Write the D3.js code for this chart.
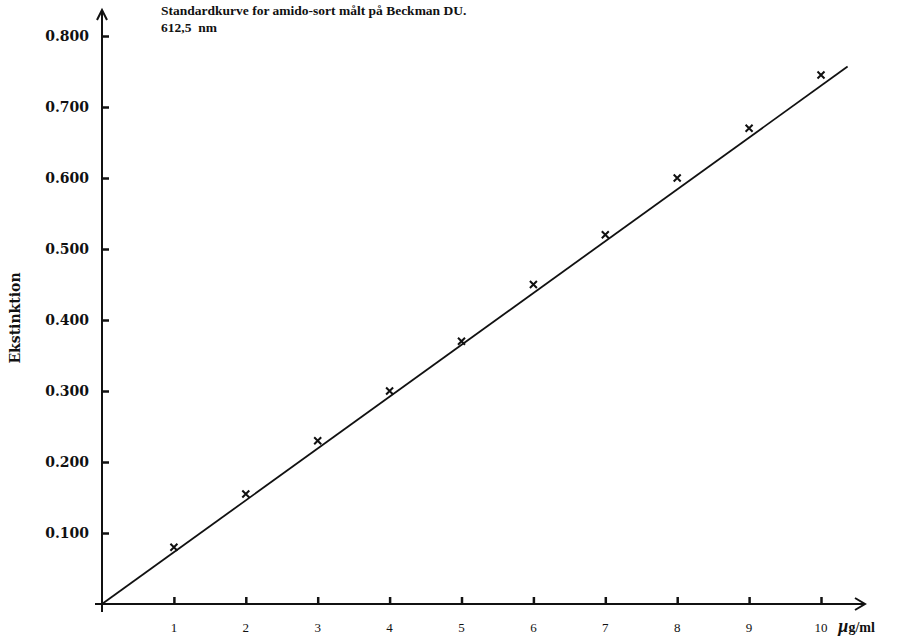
<!DOCTYPE html>
<html>
<head>
<meta charset="utf-8">
<script src="https://cdn.jsdelivr.net/npm/d3@7"></script>
<style>
  body { margin: 0; background: #fff; }
  text { font-family: "Liberation Serif", "DejaVu Serif", serif; fill: #111; }
  .wide { font-family: "DejaVu Serif", serif; }
</style>
</head>
<body>
<svg id="chart" width="899" height="637"></svg>
<script>
// measured points (concentration µg/ml, extinction)
const concentrations = [1, 2, 3, 4, 5, 6, 7, 8, 9, 10];
const extinctions = [0.08, 0.155, 0.23, 0.30, 0.37, 0.45, 0.52, 0.60, 0.67, 0.745];
// standard curve endpoints
const curveX = [0, 10.37];
const curveY = [0, 0.757];
const xTicks = [1, 2, 3, 4, 5, 6, 7, 8, 9, 10];
const yTicks = [0.1, 0.2, 0.3, 0.4, 0.5, 0.6, 0.7, 0.8];

const svg = d3.select("#chart");
const x = d3.scaleLinear().domain([0, 10]).range([102, 821]);
const y = d3.scaleLinear().domain([0, 0.8]).range([604, 36]);

// axes lines with arrows
svg.append("line").attr("x1", 95).attr("x2", 864).attr("y1", y(0)).attr("y2", y(0))
  .attr("stroke", "#111").attr("stroke-width", 2);
svg.append("path").attr("d", `M855,${y(0) - 6} L865,${y(0)} L855,${y(0) + 6}`)
  .attr("fill", "none").attr("stroke", "#111").attr("stroke-width", 2);
svg.append("line").attr("x1", x(0)).attr("x2", x(0)).attr("y1", 612).attr("y2", 11)
  .attr("stroke", "#111").attr("stroke-width", 2);
svg.append("path").attr("d", `M${x(0) - 5},20 L${x(0)},10 L${x(0) + 5},20`)
  .attr("fill", "none").attr("stroke", "#111").attr("stroke-width", 2);

// x ticks
const xAxis = d3.axisTop(x).tickValues(xTicks).tickSize(7).tickFormat("");
svg.append("g").attr("transform", `translate(0,${y(0)})`).call(xAxis)
  .call(g => g.select(".domain").remove())
  .call(g => g.selectAll("line").attr("stroke", "#111").attr("stroke-width", 2.5));
svg.append("g").selectAll("text").data(xTicks).join("text")
  .attr("x", d => x(d)).attr("y", 632).attr("text-anchor", "middle")
  .attr("font-size", 13).text(d => d);
svg.append("text").attr("x", 838).attr("y", 632).attr("font-size", 14)
  .attr("font-weight", "bold")
  .call(t => t.append("tspan").attr("font-style", "italic").attr("font-size", 18).text("\u00b5"))
  .call(t => t.append("tspan").text("g/ml"));

// y ticks
const yAxis = d3.axisRight(y).tickValues(yTicks).tickSize(7).tickFormat("");
svg.append("g").attr("transform", `translate(${x(0)},0)`).call(yAxis)
  .call(g => g.select(".domain").remove())
  .call(g => g.selectAll("line").attr("stroke", "#111").attr("stroke-width", 2.5));
svg.append("g").selectAll("text").data(yTicks).join("text")
  .attr("class", "wide")
  .attr("x", 89).attr("y", d => y(d) + 5).attr("text-anchor", "end")
  .attr("font-size", 14).attr("font-weight", "bold").text(d => d.toFixed(3));

svg.append("text").attr("class", "wide").attr("transform", "translate(20,318) rotate(-90)")
  .attr("text-anchor", "middle").attr("font-size", 14).attr("font-weight", "bold")
  .text("Ekstinktion");

// standard curve
svg.append("line")
  .attr("x1", x(curveX[0])).attr("y1", y(curveY[0]))
  .attr("x2", x(curveX[1])).attr("y2", y(curveY[1]))
  .attr("stroke", "#111").attr("stroke-width", 1.8);

// data markers (x)
const pts = concentrations.map((c, i) => ({ c, e: extinctions[i] }));
svg.append("g").selectAll("path").data(pts).join("path")
  .attr("d", d => {
    const cx = x(d.c), cy = y(d.e), s = 3.5;
    return `M${cx - s},${cy - s} L${cx + s},${cy + s} M${cx - s},${cy + s} L${cx + s},${cy - s}`;
  })
  .attr("stroke", "#111").attr("stroke-width", 2);

// title
svg.append("text").attr("x", 161).attr("y", 15).attr("font-size", 13.5)
  .attr("font-weight", "bold").text("Standardkurve for amido-sort målt på Beckman DU.");
svg.append("text").attr("x", 161).attr("y", 32).attr("font-size", 13.5)
  .attr("font-weight", "bold").attr("xml:space", "preserve").text("612,5  nm");
</script>
</body>
</html>
